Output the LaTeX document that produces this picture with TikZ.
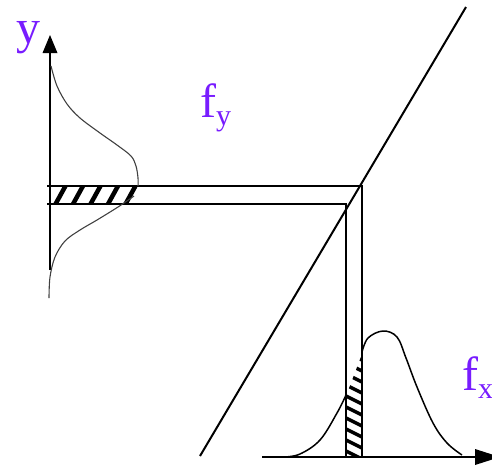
\documentclass[tikz,border=0pt]{standalone}
\usepackage{fontspec}
\setmainfont{Liberation Serif}
\definecolor{lblpurple}{RGB}{120,28,255}
\begin{document}
\begin{tikzpicture}[x=1pt,y=-1pt,
  ax/.style={line width=2.2pt,black},
  band/.style={line width=2pt,black,line cap=rect},
  curvex/.style={line width=1.5pt,black},
  curvey/.style={line width=1.1pt,black!75},
  hatchline/.style={line width=4.5pt,black},
  lbl/.style={text=lblpurple,inner sep=0pt,anchor=base west,font=\fontsize{48}{48}\selectfont}]
\useasboundingbox (0,0) rectangle (492,467);
% y axis
\draw[ax] (50,270) -- (50,50);
\fill (50,35) -- (42.5,53) -- (57.5,53) -- cycle;
% x axis
\draw[ax] (262,457) -- (480,457);
\fill (500,457) -- (475,449) -- (475,465) -- cycle;
% diagonal
\draw[line width=2pt] (200,456) -- (466,7);
% horizontal hatch
\begin{scope}
\clip (50,186) rectangle (137,204);
\foreach \x in {20,37.5,55,72.5,90,107.5,125,142.5}
  \draw[hatchline] (\x,205) -- (\x+11,185);
\end{scope}
% vertical hatch
\begin{scope}
\clip (346,396) -- (362,354) -- (362,456) -- (346,456) -- cycle;
\foreach \y in {340,351,...,460}
  \draw[line width=3.5pt] (344,\y) -- (364,\y+10);
\end{scope}
% band
\draw[band] (48,186) -- (362,186) -- (362,457);
\draw[band] (48,204) -- (346,204) -- (346,457);
% fy curve
\draw[curvey] plot[smooth,tension=0.55] coordinates {(51,66) (57,86) (67,104) (80,118) (100,133) (117,145) (131,156) (136,166) (138,178) (138,186)};
\draw[curvey] plot[smooth,tension=0.55] coordinates {(134,196) (118,207) (97,220) (80,230) (65,241) (55,257) (50,277) (49,298)};
% fx curve
\draw[curvex] plot[smooth,tension=0.6] coordinates {(284,457) (300,454) (320,440) (337,413) (346,395)};
\draw[curvex] plot[smooth,tension=0.6] coordinates {(362,352) (368,338) (383,331) (397,337) (406,358) (417,387) (433,423) (447,443) (462,455)};
% labels
\node[lbl] (ylab) at (16,43) {y};
\node[lbl] (fylab) at (200,117) {f\raisebox{-8pt}{\fontsize{30}{30}\selectfont y}};
\node[lbl] (fxlab) at (462,390) {f\raisebox{-8pt}{\fontsize{30}{30}\selectfont x}};
\end{tikzpicture}
\end{document}
